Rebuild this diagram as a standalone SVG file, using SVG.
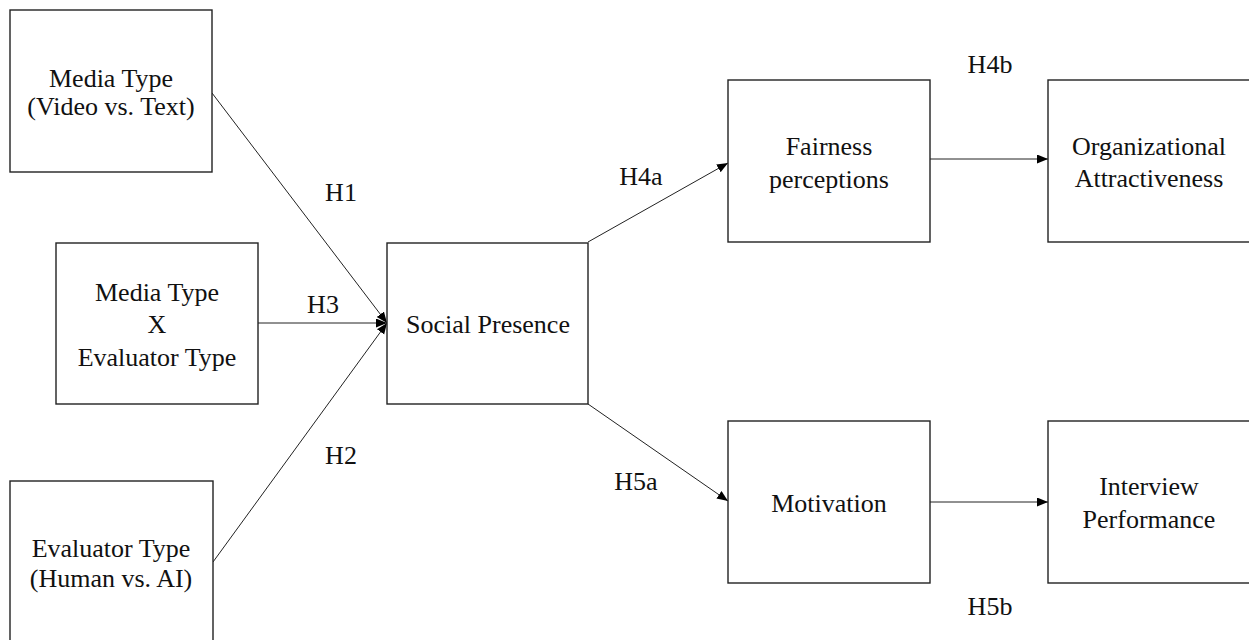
<svg xmlns="http://www.w3.org/2000/svg" width="1249" height="640" viewBox="0 0 1249 640">
<style>
.box{fill:#fff;stroke:#222;stroke-width:1.4}
.t{font-family:"Liberation Serif","Times New Roman",serif;font-size:26px;fill:#111;text-anchor:middle}
.c{fill:none;stroke:#222;stroke-width:1}
</style>
<defs>
<marker id="ah" markerUnits="userSpaceOnUse" markerWidth="12" markerHeight="10" refX="11" refY="4.5" orient="auto">
<path d="M0,0 L11,4.5 L0,9 z" fill="#000"/>
</marker>
</defs>
<rect width="1249" height="640" fill="#fff"/>
<g id="connectors">
<line class="c" x1="212" y1="93" x2="387" y2="323" marker-end="url(#ah)"/>
<line class="c" x1="258" y1="323" x2="387" y2="323" marker-end="url(#ah)"/>
<line class="c" x1="213" y1="562" x2="387" y2="323" marker-end="url(#ah)"/>
<line class="c" x1="588" y1="242" x2="728" y2="163" marker-end="url(#ah)"/>
<line class="c" x1="588" y1="404" x2="728" y2="501" marker-end="url(#ah)"/>
<line class="c" x1="930" y1="159" x2="1048" y2="159" marker-end="url(#ah)"/>
<line class="c" x1="930" y1="502" x2="1048" y2="502" stroke="#777" marker-end="url(#ah)"/>
<text class="t" x="341" y="201">H1</text>
<text class="t" x="323" y="313">H3</text>
<text class="t" x="341" y="464">H2</text>
<text class="t" x="641" y="185">H4a</text>
<text class="t" x="636" y="490">H5a</text>
<text class="t" x="990" y="73">H4b</text>
<text class="t" x="990" y="615">H5b</text>
</g>
<g id="media-type">
<rect class="box" x="10" y="10" width="202" height="162"/>
<text class="t" x="111" y="87">Media Type</text>
<text class="t" x="111" y="115">(Video vs. Text)</text>
</g>
<g id="interaction">
<rect class="box" x="56" y="243" width="202" height="161"/>
<text class="t" x="157" y="301">Media Type</text>
<text class="t" x="157" y="333">X</text>
<text class="t" x="157" y="366">Evaluator Type</text>
</g>
<g id="evaluator-type">
<rect class="box" x="10" y="481" width="203" height="170"/>
<text class="t" x="111" y="557">Evaluator Type</text>
<text class="t" x="111" y="587">(Human vs. AI)</text>
</g>
<g id="social-presence">
<rect class="box" x="387" y="243" width="201" height="161"/>
<text class="t" x="488" y="333">Social Presence</text>
</g>
<g id="fairness">
<rect class="box" x="728" y="80" width="202" height="162"/>
<text class="t" x="829" y="155">Fairness</text>
<text class="t" x="829" y="188">perceptions</text>
</g>
<g id="motivation">
<rect class="box" x="728" y="421" width="202" height="162"/>
<text class="t" x="829" y="512">Motivation</text>
</g>
<g id="org-attractiveness">
<rect class="box" x="1048" y="80" width="210" height="162"/>
<text class="t" x="1149" y="155">Organizational</text>
<text class="t" x="1149" y="187">Attractiveness</text>
</g>
<g id="interview-performance">
<rect class="box" x="1048" y="421" width="210" height="162"/>
<text class="t" x="1149" y="495">Interview</text>
<text class="t" x="1149" y="528">Performance</text>
</g>
</svg>
